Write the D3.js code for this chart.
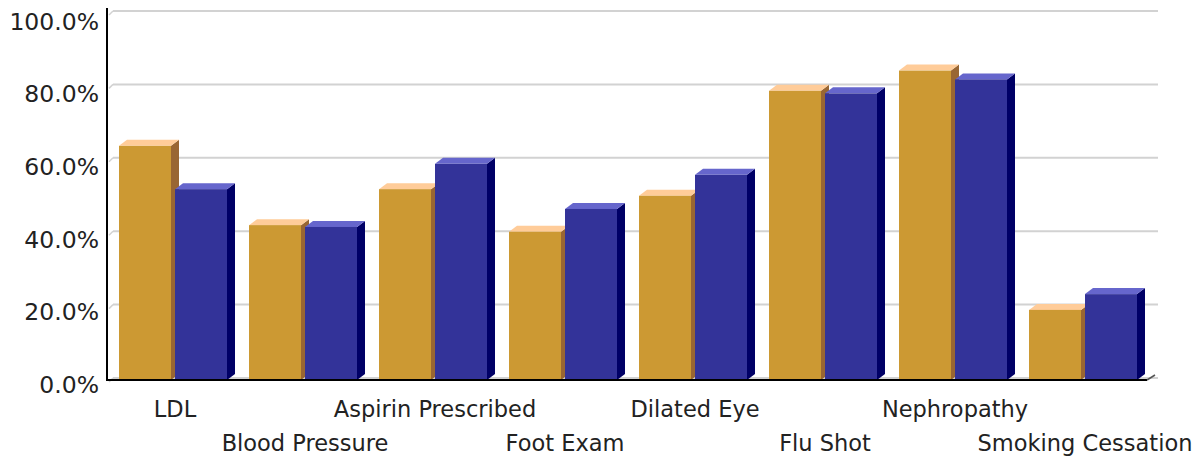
<!DOCTYPE html>
<html>
<head>
<meta charset="utf-8">
<script src="https://cdn.jsdelivr.net/npm/d3@7/dist/d3.min.js"></script>
<style>
  html, body { margin: 0; padding: 0; background: #fff; }
  svg { display: block; }
  text { font-family: "DejaVu Sans", Verdana, sans-serif; fill: #222; }
</style>
</head>
<body>
<svg id="chart" width="1202" height="458"></svg>
<script>
// Quality measures, percent of patients meeting each measure
const categories = ["LDL", "Blood Pressure", "Aspirin Prescribed", "Foot Exam",
                    "Dilated Eye", "Flu Shot", "Nephropathy", "Smoking Cessation"];
const seriesKeys = ["A", "B"];
const valuesA = [63.8, 42.2, 52.0, 40.4, 50.2, 78.8, 84.3, 19.1];
const valuesB = [52.0, 41.7, 58.9, 46.6, 55.9, 78.1, 81.9, 23.4];
const yTicks = [0, 20, 40, 60, 80, 100];

const palette = {
  A: { front: "#cc9933", top: "#ffcc99", side: "#996633" },
  B: { front: "#333399", top: "#6666cc", side: "#000066" }
};

const svg = d3.select("#chart");

// plot frame (front plane) and 3D depth offsets
const left = 107, right = 1147, base = 380, topY = 13;
const dx = 8, dy = 6;

const x = d3.scaleBand().domain(categories).range([left, right]).padding(0);
const xInner = d3.scaleBand().domain(seriesKeys).range([12, 120]).paddingInner(4 / 56).paddingOuter(0);
const y = d3.scaleLinear().domain([0, 100]).range([base, topY]);
const yLabel = d3.scaleLinear().domain([0, 100]).range([393, 29.5]);

// gridlines on the back wall
const grid = svg.append("g");
yTicks.forEach(t => {
  const gy = y(t) - 2;
  grid.append("line")
    .attr("x1", left + 6).attr("x2", right + 11)
    .attr("y1", gy).attr("y2", gy)
    .attr("stroke", "#d2d2d2").attr("stroke-width", 2);
  grid.append("line")
    .attr("x1", left + 2).attr("y1", gy + 4)
    .attr("x2", left + 6).attr("y2", gy)
    .attr("stroke", "#d2d2d2").attr("stroke-width", 1.5);
});

// y-axis tick labels
svg.append("g").selectAll("text").data(yTicks).join("text")
  .attr("x", 99)
  .attr("y", d => yLabel(d))
  .attr("text-anchor", "end")
  .attr("font-size", "23.5px")
  .text(d => d3.format(".1f")(d) + "%");

// bars
const rows = categories.map((c, i) => ({ cat: c, A: valuesA[i], B: valuesB[i] }));
const bars = svg.append("g");
rows.forEach(r => {
  seriesKeys.forEach(k => {
    const x0 = x(r.cat) + xInner(k);
    const w = xInner.bandwidth();
    const yt = y(r[k]);
    const col = palette[k];
    const g = bars.append("g");
    // side face
    g.append("path")
      .attr("d", `M${x0 + w},${yt} L${x0 + w + dx},${yt - dy} L${x0 + w + dx},${base - dy} L${x0 + w},${base} Z`)
      .attr("fill", col.side);
    // top face
    g.append("path")
      .attr("d", `M${x0},${yt} L${x0 + dx},${yt - dy} L${x0 + w + dx},${yt - dy} L${x0 + w},${yt} Z`)
      .attr("fill", col.top);
    // front face
    g.append("rect")
      .attr("x", x0).attr("y", yt)
      .attr("width", w).attr("height", base - yt)
      .attr("fill", col.front);
  });
});

// axes
svg.append("line")
  .attr("x1", left).attr("x2", left)
  .attr("y1", 8).attr("y2", base + 1)
  .attr("stroke", "#000").attr("stroke-width", 2);
svg.append("line")
  .attr("x1", left - 1).attr("x2", right)
  .attr("y1", base).attr("y2", base)
  .attr("stroke", "#000").attr("stroke-width", 2);
svg.append("line")
  .attr("x1", right).attr("y1", base)
  .attr("x2", right + dx).attr("y2", base - 5)
  .attr("stroke", "#555").attr("stroke-width", 1.5);

// category labels, staggered on two rows
svg.append("g").selectAll("text").data(categories).join("text")
  .attr("x", d => x(d) + x.bandwidth() / 2 + 3)
  .attr("y", (d, i) => i % 2 === 0 ? 417 : 451)
  .attr("text-anchor", "middle")
  .attr("font-size", "22.5px")
  .text(d => d);
</script>
</body>
</html>
